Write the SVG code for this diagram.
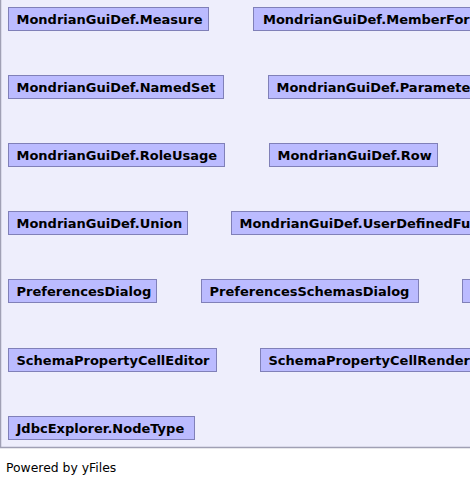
<svg xmlns="http://www.w3.org/2000/svg" width="470" height="483" viewBox="0 0 470 483">
<style>
.n rect{fill:#BBBBFF;stroke:#8080B8;stroke-width:1}
.n text{font-family:"DejaVu Sans",Verdana,sans-serif;font-weight:bold;font-size:13px;fill:#000}
.foot{font-family:"DejaVu Sans",Verdana,sans-serif;font-size:12.4px;fill:#000}
</style>
<rect x="0" y="0" width="470" height="448" fill="#EEEEFC"/>
<path d="M0.5 0 V447.5 H470" fill="none" stroke="#A0A0B4" stroke-width="1.5"/>
<g id="connectors"></g>
<g id="n1" class="n"><rect x="8.5" y="7.5" width="200" height="23"/><text x="16.5" y="23.5">MondrianGuiDef.Measure</text></g>
<g id="n2" class="n"><rect x="253.5" y="7.5" width="240" height="23"/><text x="263" y="23.5">MondrianGuiDef.MemberFormula</text></g>
<g id="n3" class="n"><rect x="8.5" y="75.5" width="215" height="23"/><text x="16.5" y="91.5">MondrianGuiDef.NamedSet</text></g>
<g id="n4" class="n"><rect x="268.5" y="75.5" width="240" height="23"/><text x="276.5" y="91.5">MondrianGuiDef.Parameter</text></g>
<g id="n5" class="n"><rect x="8.5" y="143.5" width="216" height="23"/><text x="16.5" y="159.5">MondrianGuiDef.RoleUsage</text></g>
<g id="n6" class="n"><rect x="269.5" y="143.5" width="168" height="23"/><text x="277.5" y="159.5">MondrianGuiDef.Row</text></g>
<g id="n7" class="n"><rect x="8.5" y="211.5" width="179" height="23"/><text x="16.5" y="227.5">MondrianGuiDef.Union</text></g>
<g id="n8" class="n"><rect x="231.5" y="211.5" width="300" height="23"/><text x="239.5" y="227.5">MondrianGuiDef.UserDefinedFunction</text></g>
<g id="n9" class="n"><rect x="8.5" y="279.5" width="148" height="23"/><text x="16.5" y="295.5">PreferencesDialog</text></g>
<g id="n10" class="n"><rect x="201.5" y="279.5" width="217" height="23"/><text x="209.5" y="295.5">PreferencesSchemasDialog</text></g>
<g id="n11" class="n"><rect x="462.5" y="279.5" width="100" height="23"/></g>
<g id="n12" class="n"><rect x="8.5" y="348.5" width="208" height="23"/><text x="16.5" y="364.5">SchemaPropertyCellEditor</text></g>
<g id="n13" class="n"><rect x="260.5" y="348.5" width="240" height="23"/><text x="268.5" y="364.5">SchemaPropertyCellRenderer</text></g>
<g id="n14" class="n"><rect x="8.5" y="416.5" width="186" height="23"/><text x="16.5" y="432.5">JdbcExplorer.NodeType</text></g>
<text class="foot" x="6" y="471.5">Powered by yFiles</text>
</svg>
